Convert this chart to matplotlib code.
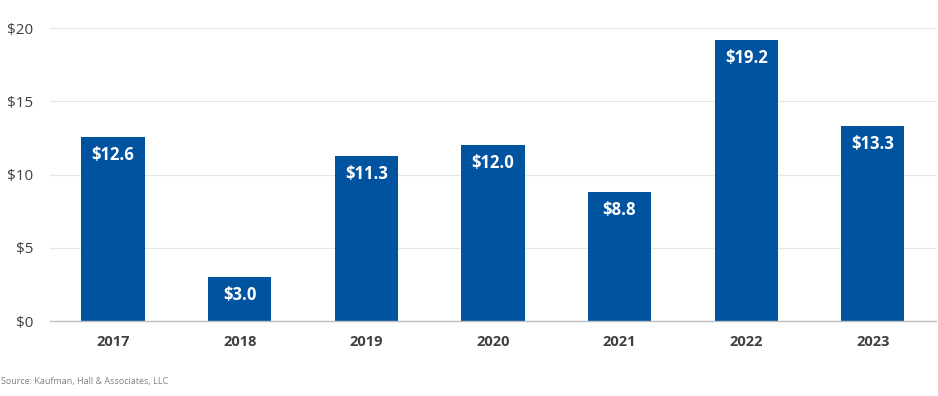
import matplotlib
matplotlib.use("Agg")
import matplotlib.pyplot as plt

years = ["2017", "2018", "2019", "2020", "2021", "2022", "2023"]
values = [12.6, 3.0, 11.3, 12.0, 8.8, 19.2, 13.3]
yticks = [0, 5, 10, 15, 20]

plt.rcParams['font.family'] = ['Open Sans', 'DejaVu Sans']

fig = plt.figure(figsize=(9.38, 3.96), dpi=100)
ax = fig.add_axes([0.053, 0.189, 0.945, 0.740])

bar_color = "#00539f"
text_color = "#404040"

x = range(len(years))
bars = ax.bar(x, values, width=0.5, color=bar_color, zorder=3)

for b, v in zip(bars, values):
    ax.annotate(f"${v:.1f}", (b.get_x() + b.get_width() / 2, v),
                xytext=(0, -13), textcoords="offset points",
                ha="center", va="center", color="white",
                fontsize=12, fontweight="bold", zorder=4)

ax.set_xlim(-0.5, len(years) - 0.5)
ax.set_ylim(0, 20)
ax.set_yticks(yticks)
ax.set_yticklabels([f"${t}" for t in yticks], fontsize=11, color=text_color)
ax.set_xticks(list(x))
ax.set_xticklabels(years, fontsize=10.5, fontweight="bold", color=text_color)
ax.tick_params(axis="both", length=0)
ax.tick_params(axis="x", pad=10)
ax.tick_params(axis="y", pad=12)

ax.grid(axis="y", color="#e6e6e6", linewidth=0.8, zorder=0)
for s in ["top", "right", "left"]:
    ax.spines[s].set_visible(False)
ax.spines["bottom"].set_color("#bfbfbf")
ax.spines["bottom"].set_linewidth(1)
ax.spines["bottom"].set_zorder(5)

fig.text(0.001, 0.036, "Source: Kaufman, Hall & Associates, LLC",
         fontsize=6.5, color="#808080", ha="left", va="center")

fig.savefig("out.png", dpi=100)
